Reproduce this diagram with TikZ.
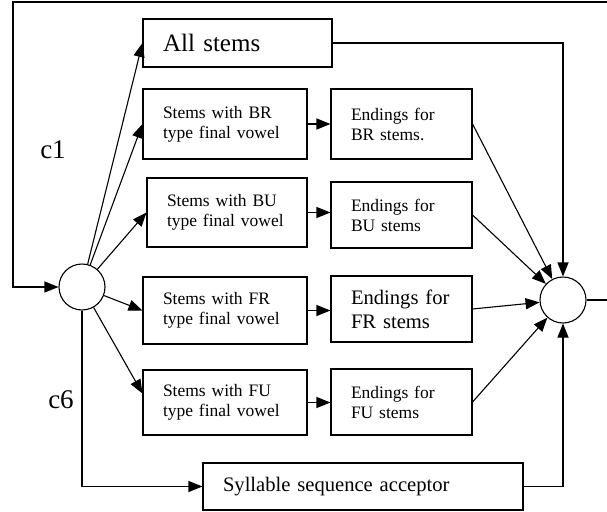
\documentclass[tikz,border=0pt]{standalone}
\usepackage{fontspec}
\setmainfont{Liberation Serif}
\usetikzlibrary{arrows.meta}

\begin{document}
\begin{tikzpicture}[x=1pt, y=-1pt, line width=1.1pt,
  box/.style={draw, rectangle, align=left, inner xsep=20pt, inner ysep=0pt},
  small/.style={font=\fontsize{17.5}{20}\selectfont},
  mid/.style={font=\fontsize{20.6}{24}\selectfont},
  big/.style={font=\fontsize{25}{30}\selectfont},
  junction/.style={draw, circle, minimum size=46pt, inner sep=0pt},
  flow/.style={-{Triangle[length=14pt, width=11pt]}}]

\useasboundingbox (0,0) rectangle (607,511);

%JUNCTIONS
\node [junction] (inL) at (82,287) {};
\node [junction] (outR) at (563,300) {};

%TOP ROW
\node [box, big, text width=149pt, minimum height=48pt] (all) at (237.5,43) {All stems};

%STEMS
\node [box, small, text width=124pt, minimum height=70pt] (sBR) at (225,124) {Stems with BR\\type final vowel};
\node [box, small, text width=120pt, minimum height=69pt] (sBU) at (227,212.5) {Stems with BU\\type final vowel};
\node [box, small, text width=124pt, minimum height=67pt] (sFR) at (225,310.5) {Stems with FR\\type final vowel};
\node [box, small, text width=124pt, minimum height=65pt] (sFU) at (225,402.5) {Stems with FU\\type final vowel};

%ENDINGS
\node [box, small, text width=101pt, minimum height=70pt] (eBR) at (401.5,124) {Endings for\\BR stems.};
\node [box, small, text width=101pt, minimum height=66pt] (eBU) at (401.5,215) {Endings for\\BU stems};
\node [box, mid, text width=101pt, minimum height=66pt] (eFR) at (401.5,309) {Endings for\\FR stems};
\node [box, small, text width=101pt, minimum height=66pt] (eFU) at (401.5,402) {Endings for\\FU stems};

%BOTTOM ROW
\node [box, mid, text width=280pt, minimum height=47pt] (syl) at (363,486.5) {Syllable sequence acceptor};

\node [font=\fontsize{27}{30}\selectfont] (c1) at (53,150) {c1};
\node [font=\fontsize{27}{30}\selectfont] (c6) at (61,400) {c6};

%LOOP
\coordinate (loopR) at (607,300);
\coordinate (loopT) at (607,2);
\coordinate (loopL) at (13,2);
\draw (outR) -- (loopR);
\draw [flow] (loopT) -- (loopL) |- (inL);

%FAN OUT
\foreach \s in {all, sBR, sBU, sFR}
  \draw [flow] (inL) -- (\s.west);
\draw [flow] (inL) -- ([yshift=9pt]sFU.west);
\draw [flow] (inL.south) |- (syl.west);

\foreach \s/\e in {sBR/eBR, sBU/eBU, sFR/eFR, sFU/eFU}
  \draw [flow] (\s.east) -- (\s.east -| \e.west);

%FAN IN
\foreach \e in {eBR, eBU, eFR, eFU}
  \draw [flow] (\e.east) -- (outR);
\draw [flow] (all.east) -| (outR.north);
\draw [flow] (syl.east) -| (outR.south);

\end{tikzpicture}
\end{document}
